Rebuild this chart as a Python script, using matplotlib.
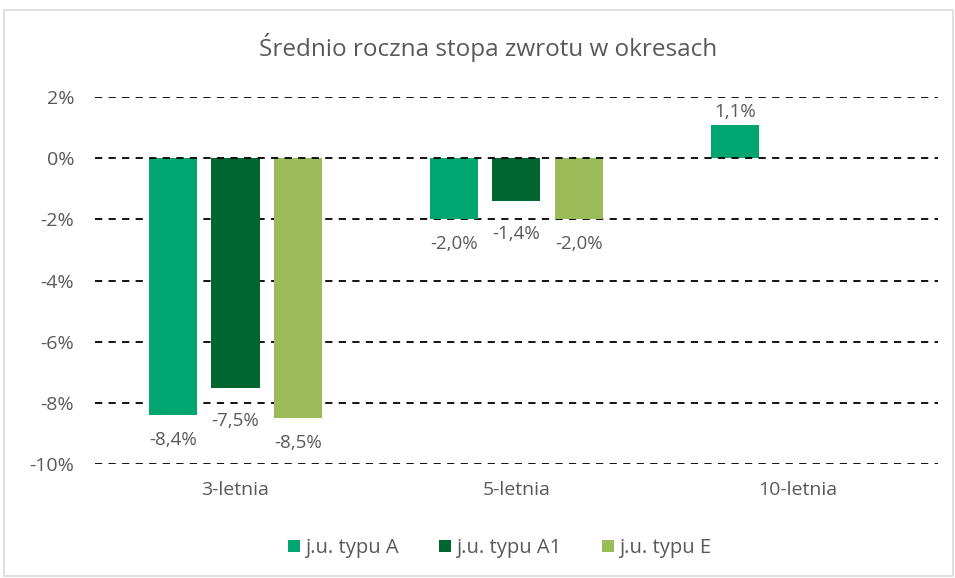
import numpy as np
import matplotlib.pyplot as plt
from matplotlib.patches import Rectangle

# --------------------------
# Data
# --------------------------
categories = ["3-letnia", "5-letnia", "10-letnia"]
series_names = ["j.u. typu A", "j.u. typu A1", "j.u. typu E"]
typ_a = [-8.4, -2.0, 1.1]
typ_a1 = [-7.5, -1.4, np.nan]
typ_e = [-8.5, -2.0, np.nan]
yticks = [2, 0, -2, -4, -6, -8, -10]

colors = ["#00A56F", "#00662F", "#9BBB59"]
text_color = "#595959"
# label distance below bar end (points), labels of A1 were pushed down a bit
label_drop = [18, 24, 18]

plt.rcParams["font.family"] = ["Open Sans", "DejaVu Sans"]

# --------------------------
# Plot
# --------------------------
fig = plt.figure(figsize=(9.55, 5.78), dpi=100)
ax = fig.add_axes([0.0995, 0.197, 0.8825, 0.635])

x = np.arange(len(categories))
width = 0.171
offset = 0.222

for i, (vals, name, col) in enumerate(zip([typ_a, typ_a1, typ_e], series_names, colors)):
    pos = x + (i - 1) * offset
    ax.bar(pos, vals, width=width, color=col, label=name, zorder=3)
    for px, v in zip(pos, vals):
        if np.isnan(v):
            continue
        label = f"{v:.1f}%".replace(".", ",")
        dy = -label_drop[i] if v < 0 else 9
        ax.annotate(label, (px, v), xytext=(0, dy), textcoords="offset points",
                    ha="center", va="center", fontsize=13.5, color=text_color)

ax.set_xlim(-0.5, 2.5)
ax.set_ylim(-10, 2)
ax.set_yticks(yticks)
ax.set_yticklabels([f"{t}%" for t in yticks])
ax.set_xticks(x)
ax.set_xticklabels(categories)
ax.tick_params(axis="both", length=0, labelsize=14, labelcolor=text_color)
ax.tick_params(axis="y", pad=15)
ax.tick_params(axis="x", pad=12)

for t in yticks:
    ax.axhline(t, color="black", lw=1.3, ls=(0, (4, 3.5)), zorder=4 if t == 0 else 1)

for s in ax.spines.values():
    s.set_visible(False)

fig.text(488 / 955, 1 - 47 / 578, "Średnio roczna stopa zwrotu w okresach",
         ha="center", va="center", fontsize=17.5, color=text_color)

ax.legend(loc="center", bbox_to_anchor=(0.48, -0.229), ncol=3, frameon=False,
          fontsize=14.5, labelcolor=text_color, handlelength=0.6, handleheight=0.6,
          handletextpad=0.25, columnspacing=2.0)

# chart frame
fig.patches.append(Rectangle((4 / 955, 2 / 578), 949 / 955, 566 / 578,
                             transform=fig.transFigure, fill=False,
                             edgecolor="#D9D9D9", lw=1.2))

fig.savefig("out.png", dpi=100)
